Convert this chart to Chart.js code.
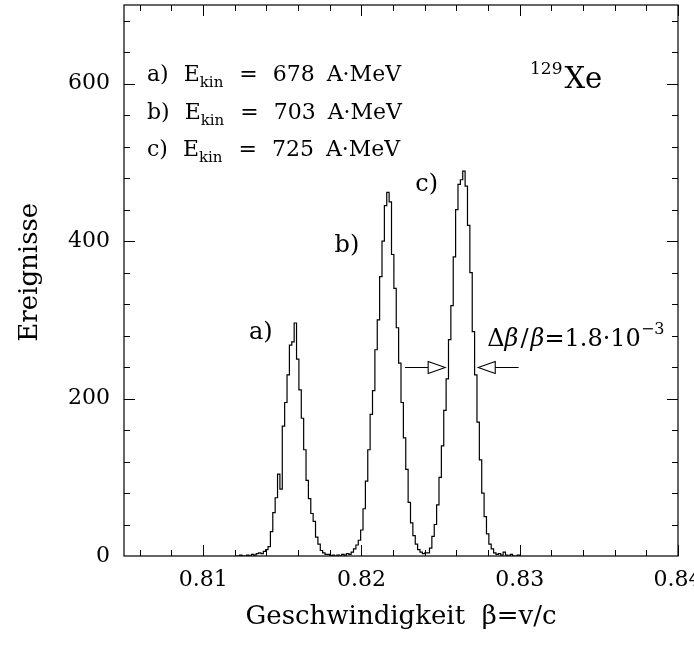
<!DOCTYPE html>
<html>
<head>
<meta charset="utf-8">
<script src="https://cdn.jsdelivr.net/npm/chart.js@4.4.1/dist/chart.umd.min.js"></script>
<style>
  html, body { margin: 0; padding: 0; background: #fff; }
  canvas { display: block; }
</style>
</head>
<body>
<canvas id="myChart" width="694" height="651"></canvas>
<script>
// Гистограмма: бины по beta, шаг 0.00015 начиная с 0.812
const binStart = 0.812;
const binWidth = 0.00015;

// отсчёты в бинах, три пика a), b), c)
const countsA = [
  0, 0, 1, 0, 0, 1, 0, 2, 1, 3,
  4, 3, 6, 8, 12, 31, 55, 74, 104, 85,
  165, 195, 230, 268, 272, 296, 250, 211, 175, 135,
  96, 73, 54, 44, 24, 15, 7, 4, 2, 2,
  0, 1, 0,
];
const countsB = [
  1, 0, 2, 1, 3, 2, 5, 9, 14, 20,
  33, 60, 95, 135, 180, 210, 262, 300, 355, 400,
  445, 462, 450, 383, 340, 290, 245, 195, 150, 110,
  68, 42, 26, 15, 8, 5, 3, 4,
];
const countsC = [
  4, 10, 25, 40, 65, 100, 140, 185, 225, 275,
  318, 380, 440, 472, 478, 489, 470, 420, 360, 285,
  230, 170, 122, 80, 50, 28, 15, 9, 4, 2,
  3, 1, 5, 1, 0, 2, 0, 0, 1, 0,
];

const xTickValues = [0.81, 0.82, 0.83, 0.84];
const yTickValues = [0, 200, 400, 600];

const counts = countsA.concat(countsB, countsC);
const points = counts.map((c, i) => ({ x: binStart + (i + 0.5) * binWidth, y: c }));

const serif = 'DejaVu Serif';

// рамка и засечки со всех четырёх сторон
const framePlugin = {
  id: 'frame',
  afterDraw(chart) {
    const { ctx, chartArea: a, scales } = chart;
    const sx = scales.x, sy = scales.y;
    ctx.save();
    ctx.strokeStyle = '#000';
    ctx.lineWidth = 1.2;
    ctx.strokeRect(a.left, a.top, a.right - a.left, a.bottom - a.top);
    ctx.lineWidth = 1;
    ctx.beginPath();
    for (let i = 403; i <= 420; i++) {
      const px = Math.round(sx.getPixelForValue(i * 0.002)) + 0.5;
      const len = i % 5 === 0 ? 11 : 6;
      ctx.moveTo(px, a.bottom); ctx.lineTo(px, a.bottom - len);
      ctx.moveTo(px, a.top); ctx.lineTo(px, a.top + len);
    }
    for (let i = 1; i <= 17; i++) {
      const py = Math.round(sy.getPixelForValue(i * 40)) + 0.5;
      const len = i % 5 === 0 ? 11 : 6;
      ctx.moveTo(a.left, py); ctx.lineTo(a.left + len, py);
      ctx.moveTo(a.right, py); ctx.lineTo(a.right - len, py);
    }
    ctx.stroke();
    ctx.restore();
  },
};

// текст из кусков: обычный, индекс, степень, курсив
function drawParts(ctx, x, y, parts) {
  parts.forEach((p) => {
    x += p.gap || 0;
    ctx.font = (p.italic ? 'italic ' : '') + (p.size || 22) + 'px "' + serif + '"';
    ctx.fillText(p.t, x, y + (p.dy || 0));
    x += ctx.measureText(p.t).width;
  });
}

const labelsPlugin = {
  id: 'labels',
  afterDraw(chart) {
    const { ctx, chartArea: a, scales } = chart;
    const sx = scales.x, sy = scales.y;
    ctx.save();
    ctx.fillStyle = '#000';
    ctx.textBaseline = 'alphabetic';
    ctx.textAlign = 'left';

    const legend = [
      ['a)', '678'],
      ['b)', '703'],
      ['c)', '725'],
    ];
    legend.forEach((row, i) => {
      drawParts(ctx, a.left + 23, a.top + 76 + i * 37.5, [
        { t: row[0] },
        { t: 'E', gap: 15 },
        { t: 'kin', size: 15, dy: 6 },
        { t: '=', gap: 16 },
        { t: row[1], gap: 15 },
        { t: 'A·MeV', gap: 12 },
      ]);
    });

    // 129Xe
    drawParts(ctx, a.left + 406, a.top + 83, [
      { t: '129', size: 17, dy: -14 },
      { t: 'Xe', size: 29, gap: 2 },
    ]);

    // подписи пиков
    ctx.font = '24px "' + serif + '"';
    ctx.fillText('a)', sx.getPixelForValue(0.8129), sy.getPixelForValue(276));
    ctx.fillText('b)', sx.getPixelForValue(0.8183), sy.getPixelForValue(386));
    ctx.fillText('c)', sx.getPixelForValue(0.8234), sy.getPixelForValue(464));

    drawParts(ctx, sx.getPixelForValue(0.82795), sy.getPixelForValue(267), [
      { t: 'Δ', size: 24 },
      { t: 'β', italic: true, size: 24 },
      { t: '/', gap: 2, size: 24 },
      { t: 'β', italic: true, gap: 2, size: 24 },
      { t: '=1.8·10', size: 24 },
      { t: '−3', size: 16, dy: -12 },
    ]);

    // стрелки к ширине пика c)
    const ay = Math.round(sy.getPixelForValue(240)) + 0.5;
    const drawArrow = (from, tip, dir) => {
      const x0 = sx.getPixelForValue(from);
      const xt = sx.getPixelForValue(tip);
      const xb = xt - dir * 17;
      ctx.beginPath();
      ctx.moveTo(x0, ay); ctx.lineTo(xb, ay);
      ctx.moveTo(xb, ay - 6); ctx.lineTo(xt, ay); ctx.lineTo(xb, ay + 6); ctx.closePath();
      ctx.lineWidth = 1.1;
      ctx.strokeStyle = '#000';
      ctx.stroke();
    };
    drawArrow(0.82275, 0.82529, 1);
    drawArrow(0.82993, 0.82738, -1);
    ctx.restore();
  },
};

const config = {
  type: 'line',
  data: {
    datasets: [
      {
        data: points,
        borderColor: '#000',
        borderWidth: 1.2,
        pointRadius: 0,
        stepped: 'middle',
        fill: false,
      },
    ],
  },
  options: {
    responsive: false,
    animation: false,
    layout: { padding: { top: 5, right: 16, left: 0, bottom: 0 } },
    plugins: {
      legend: { display: false },
      tooltip: { enabled: false },
    },
    scales: {
      x: {
        type: 'linear',
        min: 0.805,
        max: 0.84,
        grid: { display: false, drawTicks: false },
        border: { display: false },
        afterBuildTicks: (s) => { s.ticks = xTickValues.map((v) => ({ value: v })); },
        afterFit: (s) => { s.height = 95; s.paddingLeft = 0; s.paddingRight = 0; },
        ticks: {
          callback: (v) => Number(v).toFixed(2),
          font: { family: serif, size: 22 },
          color: '#000',
          padding: 11,
          maxRotation: 0,
          autoSkip: false,
        },
        title: {
          display: true,
          text: 'Geschwindigkeit  β=v/c',
          font: { family: serif, size: 26 },
          color: '#000',
          padding: { top: 0, bottom: 18 },
        },
      },
      y: {
        min: 0,
        max: 700,
        grid: { display: false, drawTicks: false },
        border: { display: false },
        afterBuildTicks: (s) => { s.ticks = yTickValues.map((v) => ({ value: v })); },
        afterFit: (s) => { s.width = 124; s.paddingTop = 0; s.paddingBottom = 0; },
        ticks: {
          font: { family: serif, size: 22 },
          color: '#000',
          padding: 14,
          autoSkip: false,
        },
        title: {
          display: true,
          // пробелы в начале чуть поднимают подпись, как в оригинале
          text: '  Ereignisse',
          font: { family: serif, size: 26 },
          color: '#000',
          padding: { top: 15, bottom: 0 },
        },
      },
    },
  },
  plugins: [framePlugin, labelsPlugin],
};

new Chart(document.getElementById('myChart').getContext('2d'), config);
</script>
</body>
</html>
